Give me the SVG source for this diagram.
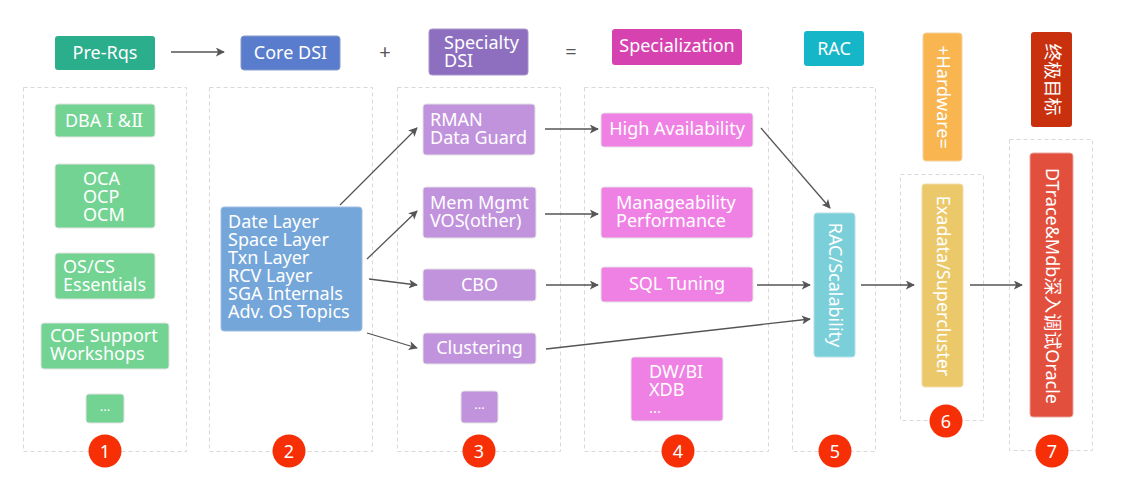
<svg xmlns="http://www.w3.org/2000/svg" width="1122" height="501" viewBox="0 0 1122 501">
<defs>
<marker id="ah" viewBox="0 0 10 10" refX="9" refY="5" markerWidth="9" markerHeight="9" markerUnits="userSpaceOnUse" orient="auto">
<path d="M0,0 L10,5 L0,10 L2.5,5 Z" fill="#555"/>
</marker>
</defs>
<style>
text{font-family:"Noto Sans","Noto Sans CJK SC",sans-serif;font-size:18px;fill:#fff}
.c{text-anchor:middle}
.rn{font-family:"DejaVu Serif","Liberation Serif",serif;font-size:18px}
.frame{fill:none;stroke:#d9d9d9;stroke-width:1;stroke-dasharray:4 3}
.box{stroke:#e3e3e3;stroke-width:1}
.g{fill:#73d393}.p{fill:#c193dd}.k{fill:#f081e4}
.badge{fill:#f62f07}
.op{fill:#555;font-size:20px}
#connectors line{stroke:#555;stroke-width:1.3;fill:none;marker-end:url(#ah)}
</style>
<rect width="1122" height="501" fill="#fff"/>

<g id="frames">
<rect class="frame" x="23.5" y="87.5" width="163" height="364"/>
<rect class="frame" x="209.5" y="87.5" width="163" height="364"/>
<rect class="frame" x="397.5" y="87.5" width="163" height="364"/>
<rect class="frame" x="584.5" y="87.5" width="184" height="364"/>
<rect class="frame" x="792.5" y="87.5" width="83" height="364"/>
<rect class="frame" x="900.5" y="174.5" width="83" height="246"/>
<rect class="frame" x="1009.5" y="139.5" width="83" height="311"/>
</g>

<g id="header-prerqs"><rect x="55" y="36" width="100" height="34" rx="3" fill="#2aae8c"/><text class="c" x="105" y="59">Pre-Rqs</text></g>
<g id="header-coredsi"><rect x="241" y="36" width="99" height="34" rx="3" fill="#5a7ccc" stroke="#8a9bc8"/><text class="c" x="290.5" y="59">Core DSI</text></g>
<text class="op c" x="385" y="59">+</text>
<g id="header-specialty"><rect x="429" y="29" width="99" height="46" rx="3" fill="#8e6fbf" stroke="#a895c8"/><text x="444" y="49">Specialty<tspan x="444" dy="18">DSI</tspan></text></g>
<text class="op c" x="571" y="59">=</text>
<g id="header-specialization"><rect x="612" y="29" width="130" height="36" rx="3" fill="#d643b0"/><text class="c" x="677" y="52">Specialization</text></g>
<g id="header-rac"><rect x="804" y="31" width="60" height="35" rx="3" fill="#14b6c8"/><text class="c" x="834" y="55">RAC</text></g>
<g id="header-hardware"><rect x="923" y="33" width="39" height="128" rx="3" fill="#f8b550" stroke="#f3d3a0"/><text class="c" transform="translate(942.5,97) rotate(90)" y="6">+Hardware=</text></g>
<g id="header-goal"><rect x="1031" y="32" width="41" height="95" rx="3" fill="#c8300e"/><text class="c" transform="translate(1051.5,79.5) rotate(90)" y="6">终极目标</text></g>

<g id="n-dba"><rect class="box g" x="55" y="104" width="100" height="33" rx="3"/><text class="c" x="104" y="127">DBA <tspan class="rn">Ⅰ</tspan> &amp;<tspan class="rn">Ⅱ</tspan></text></g>
<g id="n-oca"><rect class="box g" x="55" y="164" width="100" height="64" rx="3"/><text x="83" y="185">OCA<tspan x="83" dy="18">OCP</tspan><tspan x="83" dy="18">OCM</tspan></text></g>
<g id="n-oscs"><rect class="box g" x="55" y="253" width="100" height="46" rx="3"/><text x="63" y="273">OS/CS<tspan x="63" dy="18">Essentials</tspan></text></g>
<g id="n-coe"><rect class="box g" x="41" y="323" width="128" height="46" rx="3"/><text x="50" y="342">COE Support<tspan x="50" dy="18">Workshops</tspan></text></g>
<g id="n-more1"><rect class="box g" x="86" y="394" width="38" height="29" rx="3"/><text class="c" x="105" y="411" style="font-size:13px">...</text></g>

<g id="n-core"><rect x="221" y="207" width="141" height="124" rx="3" fill="#74a6d9" stroke="#9fbde0"/>
<text x="228" y="228">Date Layer<tspan x="228" dy="18">Space Layer</tspan><tspan x="228" dy="18">Txn Layer</tspan><tspan x="228" dy="18">RCV Layer</tspan><tspan x="228" dy="18">SGA Internals</tspan><tspan x="228" dy="18">Adv. OS Topics</tspan></text></g>

<g id="n-rman"><rect class="box p" x="423" y="104" width="112" height="51" rx="3"/><text x="430" y="126">RMAN<tspan x="430" dy="18">Data Guard</tspan></text></g>
<g id="n-mem"><rect class="box p" x="423" y="187" width="113" height="51" rx="3"/><text x="430" y="209">Mem Mgmt<tspan x="430" dy="18">VOS(other)</tspan></text></g>
<g id="n-cbo"><rect class="box p" x="423" y="269" width="113" height="32" rx="3"/><text class="c" x="479.5" y="291">CBO</text></g>
<g id="n-clustering"><rect class="box p" x="423" y="333" width="113" height="31" rx="3"/><text class="c" x="479.5" y="354">Clustering</text></g>
<g id="n-more3"><rect class="box p" x="461" y="391" width="37" height="32" rx="3"/><text class="c" x="479.5" y="409" style="font-size:13px">...</text></g>

<g id="n-ha"><rect class="box k" x="601" y="113" width="152" height="34" rx="3"/><text class="c" x="677" y="135">High Availability</text></g>
<g id="n-manage"><rect class="box k" x="601" y="187" width="152" height="51" rx="3"/><text x="616" y="209">Manageability<tspan x="616" dy="18">Performance</tspan></text></g>
<g id="n-sql"><rect class="box k" x="601" y="267" width="152" height="35" rx="3"/><text class="c" x="677" y="290">SQL Tuning</text></g>
<g id="n-dw"><rect class="box k" x="631" y="357" width="92" height="64" rx="3"/><text x="649" y="378">DW/BI<tspan x="649" dy="18">XDB</tspan><tspan x="649" dy="17" style="font-size:15px">...</tspan></text></g>

<g id="n-racs"><rect x="814" y="213" width="41" height="144" rx="3" fill="#7bcfd9" stroke="#b6e0e6"/><text class="c" transform="translate(834.5,285) rotate(90)" y="6">RAC/Scalability</text></g>
<g id="n-exadata"><rect x="922" y="184" width="41" height="203" rx="3" fill="#ebc96b" stroke="#f0dca8"/><text class="c" transform="translate(942.5,286) rotate(90)" y="6">Exadata/Supercluster</text></g>
<g id="n-dtrace"><rect x="1030" y="153" width="43" height="264" rx="3" fill="#e24f3d" stroke="#eaa59c"/><text class="c" transform="translate(1051.5,286) rotate(90)" y="6">DTrace&amp;Mdb深入调试Oracle</text></g>

<g id="badges">
<circle class="badge" cx="105" cy="451" r="16.5"/><text class="c" x="105" y="457.5">1</text>
<circle class="badge" cx="289" cy="451" r="16.5"/><text class="c" x="289" y="457.5">2</text>
<circle class="badge" cx="479" cy="451" r="16.5"/><text class="c" x="479" y="457.5">3</text>
<circle class="badge" cx="678" cy="451" r="16.5"/><text class="c" x="678" y="457.5">4</text>
<circle class="badge" cx="835" cy="451" r="16.5"/><text class="c" x="835" y="457.5">5</text>
<circle class="badge" cx="946" cy="421" r="16.5"/><text class="c" x="946" y="427.5">6</text>
<circle class="badge" cx="1052" cy="451" r="16.5"/><text class="c" x="1052" y="457.5">7</text>
</g>

<g id="connectors">
<line x1="171" y1="52" x2="224" y2="52"/>
<line x1="340" y1="205" x2="417" y2="128"/>
<line x1="367" y1="259" x2="417" y2="211"/>
<line x1="369" y1="279" x2="417" y2="285"/>
<line x1="367" y1="333" x2="417" y2="348"/>
<line x1="545" y1="129" x2="598" y2="129"/>
<line x1="545" y1="214" x2="598" y2="214"/>
<line x1="546" y1="285" x2="598" y2="285"/>
<line x1="546" y1="349" x2="810" y2="319"/>
<line x1="761" y1="128" x2="830" y2="208"/>
<line x1="757" y1="285" x2="810" y2="285"/>
<line x1="861" y1="285" x2="914" y2="285"/>
<line x1="970" y1="285" x2="1022" y2="285"/>
</g>
</svg>
